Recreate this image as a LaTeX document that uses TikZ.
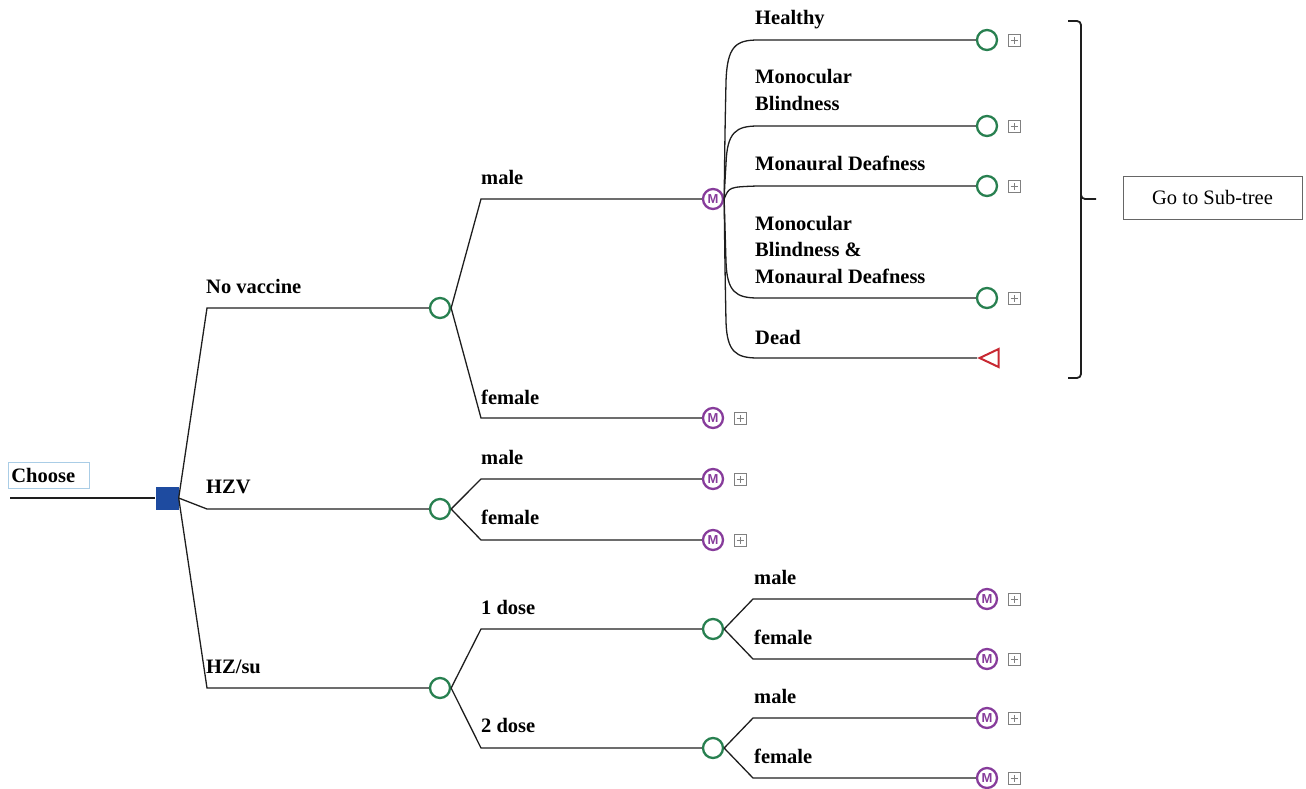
\documentclass[tikz,border=0pt]{standalone}
\usepackage{fontspec}
\setmainfont{Liberation Serif}
\newfontfamily\msans{Liberation Sans}
\usetikzlibrary{shapes.geometric}
\definecolor{cgreen}{RGB}{40,128,80}
\definecolor{mpurple}{RGB}{135,60,155}
\definecolor{tred}{RGB}{200,40,50}
\definecolor{dblue}{RGB}{30,75,160}
\definecolor{chooseblue}{RGB}{170,205,230}
\definecolor{plusgray}{RGB}{128,128,128}
\definecolor{linecol}{RGB}{30,30,30}
\newcommand\lblfont{\fontsize{20.5}{26.5}\selectfont\bfseries}
\begin{document}
\begin{tikzpicture}[x=1pt,y=-1pt,
  lbl/.style={anchor=base west, inner sep=0, font=\lblfont, align=left},
  conn/.style={draw=linecol, line width=1.3pt},
  chance/.style={circle, draw=cgreen, line width=2.3pt, fill=white, minimum size=20pt, inner sep=0},
  markov/.style={circle, draw=mpurple, line width=2.3pt, fill=white, minimum size=20pt, inner sep=0,
     font=\msans\bfseries\fontsize{13}{13}\selectfont, text=mpurple},
  decision/.style={rectangle, fill=dblue, minimum size=23pt, inner sep=0},
  term/.style={isosceles triangle, shape border rotate=180, isosceles triangle stretches,
     draw=tred, line width=2pt, minimum height=19pt, minimum width=18pt, inner sep=0, fill=white},
  plusbox/.style={rectangle, draw=plusgray, line width=0.9pt, minimum size=12pt, inner sep=0,
     path picture={\draw[plusgray, line width=0.9pt]
       ([xshift=-3.5pt]path picture bounding box.center) -- ([xshift=3.5pt]path picture bounding box.center)
       ([yshift=-3.5pt]path picture bounding box.center) -- ([yshift=3.5pt]path picture bounding box.center);}},
]
\useasboundingbox (0,0) rectangle (1306,788);

% ---- nodes ----
\node[draw=chooseblue, line width=0.8pt, minimum height=26pt, text width=75pt, inner xsep=3pt,
      align=left, font=\lblfont, anchor=north west] (choose) at (8,462) {Choose};
\coordinate (start) at (10,498);
\node[decision] (dec) at (167,498) {};

\node[chance] (nv) at (440,308) {};
\node[chance] (hzv) at (440,509) {};
\node[chance] (hzsu) at (440,688) {};

\node[markov] (mfan) at (713,199) {M};
\node[markov] (mf1) at (713,418) {M};
\node[markov] (mm2) at (713,479) {M};
\node[markov] (mf2) at (713,540) {M};

\node[chance] (d1) at (713,629) {};
\node[chance] (d2) at (713,748) {};

\node[chance] (h) at (987,40) {};
\node[chance] (mb) at (987,126) {};
\node[chance] (md) at (987,186) {};
\node[chance] (mbd) at (987,298) {};
\node[term, anchor=apex] (dead) at (977,358) {};

\node[markov] (m1m) at (987,599) {M};
\node[markov] (m1f) at (987,659) {M};
\node[markov] (m2m) at (987,718) {M};
\node[markov] (m2f) at (987,778) {M};

% plus boxes
\foreach \n/\y in {p1/40,p2/126,p3/186,p4/298,p5/599,p6/659,p7/718,p8/778}
  \node[plusbox] (\n) at (1014,\y) {};
\foreach \n/\y in {p9/418,p10/479,p11/540}
  \node[plusbox] (\n) at (740,\y) {};

% ---- connectors ----
\draw[conn] (start) -- (dec.west);
\draw[conn] (dec.east) -- (207,308) -- (nv.west);
\draw[conn] (dec.east) -- (207,509) -- (hzv.west);
\draw[conn] (dec.east) -- (207,688) -- (hzsu.west);

\draw[conn] (nv.east) -- (481,199) -- (mfan.west);
\draw[conn] (nv.east) -- (481,418) -- (mf1.west);
\draw[conn] (hzv.east) -- (481,479) -- (mm2.west);
\draw[conn] (hzv.east) -- (481,540) -- (mf2.west);
\draw[conn] (hzsu.east) -- (481,629) -- (d1.west);
\draw[conn] (hzsu.east) -- (481,748) -- (d2.west);

\draw[conn] (d1.east) -- (753,599) -- (m1m.west);
\draw[conn] (d1.east) -- (753,659) -- (m1f.west);
\draw[conn] (d2.east) -- (753,718) -- (m2m.west);
\draw[conn] (d2.east) -- (753,778) -- (m2f.west);

% Markov fan
\draw[conn] (mfan.east) .. controls (725,130) .. (726,82) .. controls (727,46) and (736,40) .. (758,40) -- (h.west);
\draw[conn] (mfan.east) .. controls (725,180) .. (726,164) .. controls (727,132) and (736,126) .. (758,126) -- (mb.west);
\draw[conn] (mfan.east) .. controls (729,187) .. (757,186) -- (md.west);
\draw[conn] (mfan.east) .. controls (725,230) .. (726,262) .. controls (727,292) and (736,298) .. (758,298) -- (mbd.west);
\draw[conn] (mfan.east) .. controls (725,270) .. (726,322) .. controls (727,352) and (736,358) .. (758,358) -- (dead.apex);

% ---- labels ----
\node[lbl] (lh) at (755,24) {Healthy};
\node[lbl] (lmb) at (755,110) {Monocular\\Blindness};
\node[lbl] (lmd) at (755,170) {Monaural Deafness};
\node[lbl] (lmbd) at (755,283) {Monocular\\Blindness \&\\Monaural Deafness};
\node[lbl] (ldead) at (755,344) {Dead};

\node[lbl] (lnv) at (206,293) {No vaccine};
\node[lbl] (lhzv) at (206,493) {HZV};
\node[lbl] (lhzsu) at (206,673) {HZ/su};

\node[lbl] (lm1) at (481,184) {male};
\node[lbl] (lf1) at (481,404) {female};
\node[lbl] (lm2) at (481,464) {male};
\node[lbl] (lf2) at (481,524) {female};
\node[lbl] (l1d) at (481,614) {1 dose};
\node[lbl] (l2d) at (481,732) {2 dose};

\node[lbl] (lm3) at (754,584) {male};
\node[lbl] (lf3) at (754,644) {female};
\node[lbl] (lm4) at (754,703) {male};
\node[lbl] (lf4) at (754,763) {female};

% ---- bracket ----
\draw[linecol, line width=1.8pt, rounded corners=4pt]
  (1068,21) -- (1081,21) -- (1081,199) -- (1096,199);
\draw[linecol, line width=1.8pt, rounded corners=4pt]
  (1081,195) -- (1081,378) -- (1068,378);

% ---- sub-tree box ----
\node[draw=black!60, line width=0.8pt, minimum width=179pt, minimum height=43pt, inner sep=0,
      font=\fontsize{20.5}{24}\selectfont] (sub) at (1212.5,197.5) {Go to Sub-tree};
\end{tikzpicture}
\end{document}
